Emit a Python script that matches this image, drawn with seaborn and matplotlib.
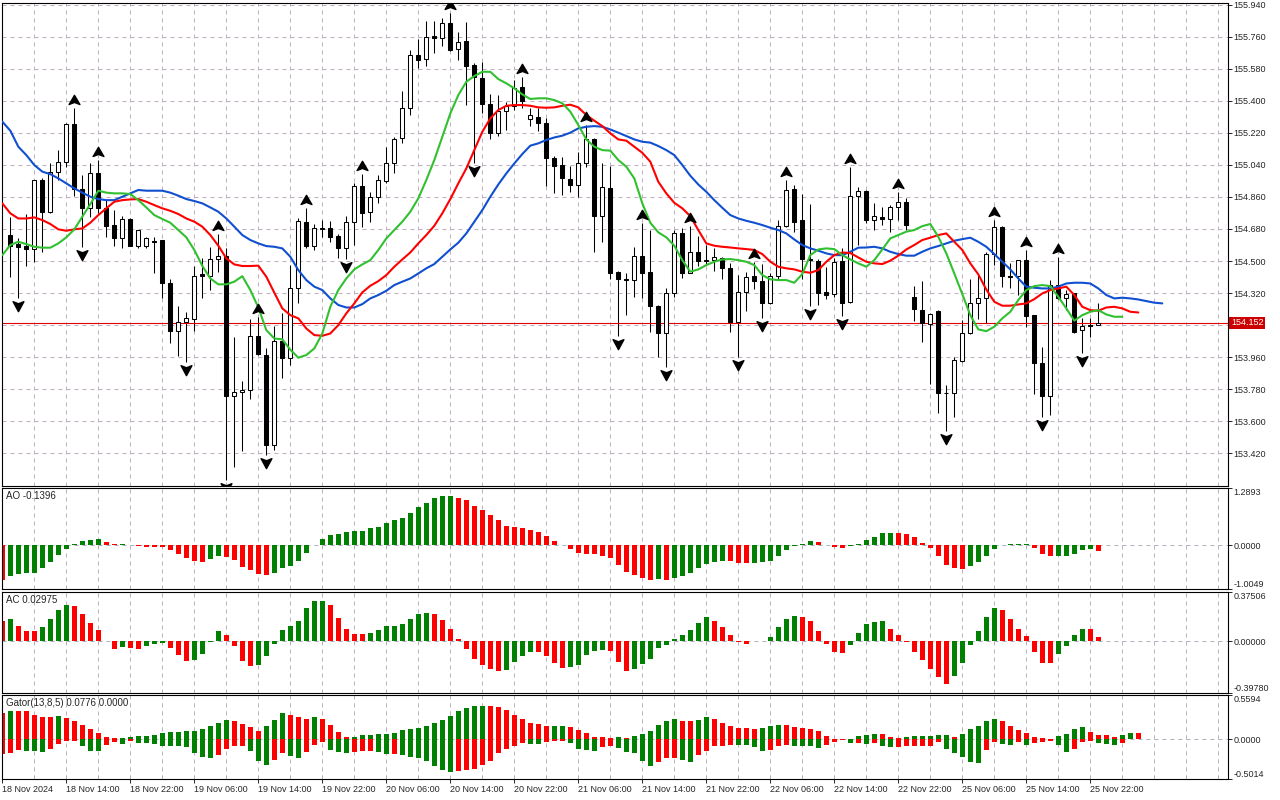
import numpy as np
import matplotlib
matplotlib.use("Agg")
import matplotlib.pyplot as plt
from matplotlib.path import Path
import seaborn as sns

# H1 candles, bar 0 = 18 Nov 2024 07:00
opens = [
    154.646, 154.593, 154.584, 154.565, 154.955, 154.773, 154.998, 155.054, 155.267, 154.902,
    154.796, 154.992, 154.796, 154.700, 154.627, 154.736, 154.586, 154.586, 154.612, 154.618,
    154.374, 154.108, 154.155, 154.172, 154.427, 154.417, 154.509, 154.528, 153.743, 153.762,
    153.773, 154.078, 153.972, 153.466, 154.050, 153.957, 154.346, 154.720, 154.586, 154.687,
    154.683, 154.640, 154.571, 154.717, 154.921, 154.773, 154.861, 154.952, 155.052, 155.189,
    155.357, 155.657, 155.633, 155.764, 155.754, 155.835, 155.689, 155.736, 155.600, 155.530,
    155.380, 155.217, 155.342, 155.371, 155.475, 155.296, 155.307, 155.273, 155.077, 155.037,
    154.962, 154.927, 155.052, 155.183, 154.754, 154.910, 154.436, 154.399, 154.395, 154.528,
    154.436, 154.247, 154.093, 154.318, 154.655, 154.434, 154.548, 154.502, 154.503, 154.518,
    154.462, 154.155, 154.327, 154.415, 154.389, 154.262, 154.417, 154.698, 154.902, 154.730,
    154.509, 154.500, 154.324, 154.312, 154.500, 154.271, 154.867, 154.895, 154.730, 154.749,
    154.736, 154.801, 154.833, 154.299, 154.224, 154.144, 154.219, 153.760, 153.760, 153.940,
    154.093, 154.262, 154.294, 154.539, 154.693, 154.417, 154.417, 154.505, 154.196, 153.925,
    153.743, 154.365, 154.290, 154.318, 154.112, 154.140, 154.140]
highs = [
    154.749, 154.627, 154.762, 154.957, 154.964, 155.048, 155.123, 155.277, 155.361, 154.983,
    155.048, 155.067, 154.842, 154.786, 154.752, 154.739, 154.676, 154.633, 154.636, 154.620,
    154.397, 154.247, 154.211, 154.472, 154.518, 154.576, 154.651, 154.571, 154.075, 153.826,
    154.174, 154.185, 154.009, 154.136, 154.209, 154.477, 154.739, 154.796, 154.706, 154.730,
    154.724, 154.650, 154.754, 154.940, 154.988, 154.889, 154.985, 155.142, 155.198, 155.457,
    155.685, 155.747, 155.848, 155.848, 155.863, 155.891, 155.788, 155.844, 155.610, 155.620,
    155.436, 155.432, 155.395, 155.517, 155.535, 155.357, 155.357, 155.301, 155.092, 155.086,
    155.035, 155.114, 155.264, 155.189, 155.048, 155.035, 154.445, 154.430, 154.580, 154.715,
    154.674, 154.253, 154.346, 154.674, 154.687, 154.696, 154.640, 154.590, 154.571, 154.524,
    154.487, 154.421, 154.440, 154.492, 154.481, 154.434, 154.730, 154.955, 154.927, 154.874,
    154.820, 154.509, 154.468, 154.518, 154.571, 155.030, 154.914, 154.899, 154.824, 154.805,
    154.814, 154.889, 154.852, 154.359, 154.387, 154.206, 154.224, 153.803, 153.962, 154.168,
    154.397, 154.427, 154.552, 154.730, 154.696, 154.487, 154.507, 154.562, 154.198, 154.018,
    154.393, 154.524, 154.337, 154.320, 154.178, 154.178, 154.262]
lows = [
    154.412, 154.294, 154.473, 154.496, 154.552, 154.767, 154.955, 155.030, 154.865, 154.580,
    154.749, 154.770, 154.636, 154.586, 154.571, 154.586, 154.571, 154.571, 154.430, 154.294,
    154.037, 153.968, 153.934, 154.106, 154.294, 154.340, 154.440, 153.269, 153.344, 153.434,
    153.723, 153.970, 153.410, 153.438, 153.844, 153.915, 154.262, 154.571, 154.562, 154.633,
    154.608, 154.518, 154.509, 154.590, 154.693, 154.721, 154.824, 154.936, 154.992, 155.161,
    155.320, 155.582, 155.595, 155.666, 155.709, 155.681, 155.629, 155.376, 155.048, 155.329,
    155.183, 155.202, 155.236, 155.348, 155.357, 155.258, 155.232, 154.923, 154.880, 154.871,
    154.889, 154.861, 155.030, 154.552, 154.608, 154.397, 154.080, 154.196, 154.299, 154.294,
    154.099, 153.959, 153.902, 154.299, 154.402, 154.430, 154.473, 154.477, 154.445, 154.397,
    154.103, 153.962, 154.221, 154.342, 154.181, 154.258, 154.393, 154.690, 154.661, 154.397,
    154.247, 154.255, 154.284, 154.299, 154.191, 154.266, 154.590, 154.711, 154.674, 154.702,
    154.661, 154.730, 154.674, 154.165, 154.047, 153.809, 153.644, 153.545, 153.625, 153.934,
    154.088, 154.172, 154.150, 154.477, 154.356, 154.346, 154.309, 154.131, 153.751, 153.625,
    153.634, 154.284, 154.224, 154.093, 153.985, 154.075, 154.138]
closes = [
    154.586, 154.580, 154.565, 154.955, 154.773, 154.998, 155.054, 155.267, 154.902, 154.796,
    154.992, 154.796, 154.698, 154.627, 154.734, 154.586, 154.674, 154.627, 154.606, 154.374,
    154.108, 154.155, 154.178, 154.415, 154.417, 154.509, 154.528, 153.743, 153.762, 153.775,
    154.078, 153.977, 153.466, 154.050, 153.957, 154.346, 154.724, 154.586, 154.687, 154.681,
    154.636, 154.571, 154.717, 154.921, 154.767, 154.861, 154.955, 155.048, 155.183, 155.357,
    155.657, 155.629, 155.756, 155.751, 155.835, 155.685, 155.728, 155.597, 155.532, 155.380,
    155.217, 155.342, 155.371, 155.474, 155.400, 155.320, 155.273, 155.077, 155.035, 154.964,
    154.927, 155.052, 155.183, 154.754, 154.914, 154.434, 154.397, 154.395, 154.530, 154.434,
    154.247, 154.093, 154.318, 154.655, 154.434, 154.548, 154.502, 154.505, 154.520, 154.462,
    154.155, 154.327, 154.412, 154.389, 154.262, 154.417, 154.698, 154.899, 154.721, 154.509,
    154.505, 154.318, 154.309, 154.496, 154.266, 154.867, 154.895, 154.730, 154.754, 154.736,
    154.801, 154.833, 154.702, 154.230, 154.150, 154.200, 153.760, 153.758, 153.944, 154.093,
    154.262, 154.294, 154.539, 154.689, 154.417, 154.412, 154.505, 154.193, 153.925, 153.743,
    154.365, 154.290, 154.312, 154.103, 154.135, 154.133, 154.152]
last_price = 154.152

up_fractals = [8, 11, 26, 31, 37, 44, 55, 64, 72, 79, 85, 93, 97, 105, 111, 123, 127, 131]
down_fractals = [1, 9, 22, 27, 32, 42, 58, 76, 82, 91, 94, 100, 104, 117, 129, 134]

# Alligator (shifted lines), first value belongs to bar -1
jaw = [
    155.283, 155.232, 155.142, 155.095, 155.039, 155.002, 154.988, 154.964, 154.936, 154.908,
    154.884, 154.861, 154.848, 154.842, 154.842, 154.861, 154.880, 154.899, 154.895, 154.895,
    154.895, 154.884, 154.867, 154.848, 154.837, 154.824, 154.801, 154.777, 154.739, 154.693,
    154.646, 154.618, 154.599, 154.584, 154.580, 154.571, 154.524,
    154.449, 154.393, 154.356, 154.337, 154.290, 154.253, 154.239, 154.239, 154.258, 154.290,
    154.309, 154.333, 154.365, 154.384, 154.402, 154.430, 154.459, 154.483, 154.524, 154.565,
    154.603, 154.655, 154.721, 154.786, 154.861, 154.930, 154.992, 155.048, 155.101, 155.148,
    155.161, 155.180, 155.194, 155.204,
    155.221, 155.245, 155.254, 155.258, 155.254, 155.239, 155.221, 155.202, 155.183, 155.170,
    155.165, 155.146, 155.123, 155.095, 155.039, 154.979, 154.930, 154.889, 154.842, 154.799,
    154.758, 154.739, 154.726, 154.715, 154.702, 154.687, 154.674, 154.655, 154.621, 154.590,
    154.571, 154.558, 154.543, 154.533, 154.533,
    154.552, 154.575, 154.576, 154.580, 154.571, 154.552, 154.539, 154.530, 154.530, 154.552,
    154.571, 154.584, 154.599, 154.614, 154.623, 154.631, 154.608, 154.580, 154.539, 154.496,
    154.453, 154.402, 154.356, 154.350, 154.346, 154.346, 154.356, 154.374, 154.378, 154.378,
    154.374, 154.346, 154.309, 154.290, 154.294, 154.290, 154.284, 154.275, 154.266, 154.262]
teeth = [
    154.824, 154.768, 154.739, 154.739, 154.745, 154.730, 154.708, 154.678, 154.670, 154.678,
    154.683, 154.715, 154.758, 154.796, 154.833, 154.842, 154.846, 154.848, 154.833, 154.814,
    154.796, 154.782, 154.764, 154.739, 154.721, 154.693, 154.646, 154.586, 154.515, 154.481,
    154.472, 154.472, 154.474, 154.412, 154.322, 154.234, 154.196,
    154.178, 154.121, 154.084, 154.080, 154.093, 154.140, 154.206, 154.262, 154.324, 154.361,
    154.387, 154.421, 154.468, 154.509, 154.548, 154.599, 154.646, 154.698, 154.768, 154.848,
    154.936, 155.020, 155.123, 155.226, 155.301, 155.348, 155.372, 155.376, 155.376, 155.372,
    155.363, 155.361, 155.363, 155.372, 155.378,
    155.363, 155.320, 155.288, 155.258, 155.217, 155.183, 155.176, 155.142, 155.108, 155.058,
    154.945, 154.880, 154.827, 154.796, 154.752, 154.674, 154.599, 154.586, 154.580, 154.576,
    154.571, 154.567, 154.562, 154.539, 154.496, 154.468, 154.459, 154.453, 154.440, 154.434,
    154.449, 154.496, 154.533, 154.548,
    154.545, 154.520, 154.496, 154.487, 154.483, 154.502, 154.530, 154.565, 154.590, 154.618,
    154.631, 154.646, 154.655, 154.608, 154.562, 154.487, 154.425, 154.340, 154.271, 154.249,
    154.249, 154.256, 154.262, 154.286, 154.318, 154.337, 154.346, 154.356, 154.309, 154.243,
    154.224, 154.221, 154.239, 154.243, 154.234, 154.215, 154.211]
lips = [
    154.533, 154.590, 154.608, 154.595, 154.580, 154.575, 154.575, 154.599, 154.633, 154.678,
    154.749, 154.820, 154.895, 154.884, 154.880, 154.880, 154.876, 154.842, 154.801, 154.758,
    154.736, 154.715, 154.674, 154.633, 154.562, 154.473, 154.402, 154.369, 154.369, 154.384,
    154.415, 154.337, 154.239, 154.112, 154.065, 154.060, 154.002,
    153.957, 153.972, 154.009, 154.093, 154.243, 154.337, 154.402, 154.453, 154.481, 154.505,
    154.562, 154.627, 154.674, 154.721, 154.777, 154.852, 154.955, 155.067, 155.198, 155.329,
    155.432, 155.507, 155.539, 155.563, 155.563, 155.522, 155.498, 155.470, 155.436, 155.410,
    155.414, 155.414, 155.404, 155.386, 155.339,
    155.264, 155.183, 155.142, 155.123, 155.120, 155.067, 155.030, 154.964, 154.824, 154.715,
    154.661, 154.633, 154.586, 154.505, 154.440, 154.453, 154.477, 154.496, 154.509, 154.511,
    154.505, 154.496, 154.477, 154.421, 154.397, 154.393, 154.393, 154.378, 154.427, 154.533,
    154.565, 154.571, 154.567, 154.533,
    154.509, 154.487, 154.468, 154.505, 154.565, 154.627, 154.646, 154.665, 154.674, 154.696,
    154.708, 154.636, 154.543, 154.430, 154.314, 154.196, 154.116, 154.106, 154.131, 154.178,
    154.215, 154.281, 154.337, 154.359, 154.365, 154.359, 154.299, 154.234, 154.165, 154.196,
    154.215, 154.224, 154.200, 154.187, 154.187]

# oscillators, first value belongs to bar -1
ao = [
    -0.80, -0.70, -0.655, -0.645, -0.626, -0.528, -0.392, -0.234, -0.098, 0.02,
    0.083, 0.106, 0.128, 0.075, 0.03, 0.032, 0.0, -0.03, -0.035, -0.053,
    -0.055, -0.12, -0.21, -0.30, -0.354, -0.377, -0.324, -0.241, -0.264, -0.339,
    -0.505, -0.573, -0.649, -0.671, -0.626, -0.528, -0.468, -0.37, -0.189, -0.005,
    0.128, 0.234, 0.256, 0.287, 0.309, 0.324, 0.377, 0.415, 0.505, 0.558,
    0.618, 0.731, 0.875, 0.965, 1.071, 1.109, 1.116, 1.071, 1.026, 0.89,
    0.80, 0.686, 0.558, 0.437, 0.415, 0.377, 0.347, 0.30, 0.21, 0.098,
    0.01, -0.098, -0.189, -0.196, -0.20, -0.241, -0.30, -0.445, -0.603, -0.671,
    -0.739, -0.784, -0.77, -0.79, -0.739, -0.694, -0.633, -0.528, -0.422, -0.377,
    -0.354, -0.36, -0.40, -0.41, -0.40, -0.395, -0.354, -0.256, -0.12, -0.03,
    0.02, 0.098, 0.068, 0.005, -0.038, -0.075, -0.023, 0.023, 0.12, 0.19,
    0.28, 0.285, 0.28, 0.25, 0.173, 0.053, -0.068, -0.256, -0.445, -0.52,
    -0.535, -0.483, -0.392, -0.256, -0.098, -0.005, 0.02, 0.03, 0.035, -0.068,
    -0.21, -0.256, -0.25, -0.245, -0.196, -0.12, -0.098, -0.1396]
ac = [
    0.154, 0.169, 0.115, 0.077, 0.076, 0.108, 0.169, 0.239, 0.277, 0.27,
    0.208, 0.139, 0.082, -0.002, -0.059, -0.046, -0.054, -0.059, -0.038, -0.02,
    -0.019, -0.051, -0.105, -0.151, -0.144, -0.098, -0.01, 0.077, 0.046, -0.038,
    -0.151, -0.192, -0.185, -0.115, -0.02, 0.085, 0.115, 0.154, 0.257, 0.308,
    0.31, 0.277, 0.177, 0.092, 0.054, 0.053, 0.062, 0.085, 0.115, 0.116,
    0.131, 0.169, 0.208, 0.216, 0.208, 0.162, 0.092, 0.015, -0.059, -0.136,
    -0.185, -0.213, -0.228, -0.221, -0.159, -0.113, -0.082, -0.083, -0.113, -0.167,
    -0.205, -0.198, -0.182, -0.105, -0.074, -0.067, -0.074, -0.159, -0.228, -0.213,
    -0.174, -0.136, -0.051, -0.028, 0.015, 0.046, 0.085, 0.139, 0.185, 0.154,
    0.108, 0.046, -0.008, -0.02, -0.003, 0.001, 0.031, 0.108, 0.169, 0.192,
    0.185, 0.154, 0.077, -0.02, -0.082, -0.09, -0.028, 0.062, 0.131, 0.146,
    0.154, 0.092, 0.046, -0.005, -0.082, -0.144, -0.213, -0.275, -0.328, -0.267,
    -0.167, -0.028, 0.077, 0.185, 0.254, 0.239, 0.169, 0.092, 0.038, -0.082,
    -0.167, -0.168, -0.098, -0.036, 0.046, 0.092, 0.091, 0.02975]
gator_up = [
    0.34, 0.363, 0.36, 0.358, 0.304, 0.287, 0.286, 0.30, 0.275, 0.237,
    0.186, 0.135, 0.085, 0.034, 0.013, 0.017, 0.034, 0.046, 0.047, 0.059,
    0.085, 0.097, 0.098, 0.106, 0.107, 0.135, 0.173, 0.211, 0.249, 0.237,
    0.199, 0.161, 0.11, 0.173, 0.249, 0.338, 0.313, 0.287, 0.262, 0.279,
    0.262, 0.186, 0.097, 0.025, 0.03, 0.059, 0.06, 0.072, 0.073, 0.085,
    0.123, 0.135, 0.148, 0.173, 0.211, 0.249, 0.30, 0.359, 0.401, 0.427,
    0.43, 0.426, 0.414, 0.376, 0.313, 0.262, 0.211, 0.199, 0.173, 0.175,
    0.176, 0.16, 0.123, 0.085, 0.034, 0.025, 0.024, 0.034, 0.017, 0.038,
    0.063, 0.11, 0.186, 0.237, 0.262, 0.237, 0.236, 0.249, 0.287, 0.262,
    0.211, 0.173, 0.148, 0.145, 0.135, 0.148, 0.173, 0.186, 0.185, 0.16,
    0.148, 0.135, 0.11, 0.046, 0.008, 0.004, 0.01, 0.046, 0.059, 0.072,
    0.07, 0.034, 0.012, 0.034, 0.046, 0.047, 0.048, 0.059, 0.06, 0.03,
    0.072, 0.135, 0.173, 0.237, 0.262, 0.237, 0.173, 0.123, 0.085, 0.034,
    0.013, 0.008, 0.038, 0.072, 0.135, 0.16, 0.097, 0.059, 0.055, 0.03,
    0.055, 0.085, 0.0776]
gator_down = [
    0.19, 0.177, 0.14, 0.144, 0.152, 0.153, 0.123, 0.063, 0.025, 0.021,
    0.089, 0.144, 0.152, 0.076, 0.038, 0.063, 0.025, 0.042, 0.051, 0.059,
    0.08, 0.084, 0.089, 0.101, 0.177, 0.228, 0.241, 0.203, 0.127, 0.089,
    0.085, 0.152, 0.279, 0.329, 0.266, 0.177, 0.215, 0.232, 0.165, 0.076,
    0.038, 0.139, 0.165, 0.177, 0.165, 0.152, 0.151, 0.165, 0.186, 0.185,
    0.203, 0.228, 0.241, 0.279, 0.342, 0.393, 0.418, 0.406, 0.393, 0.38,
    0.33, 0.279, 0.177, 0.127, 0.089, 0.051, 0.052, 0.063, 0.038, 0.025,
    0.02, 0.051, 0.123, 0.135, 0.144, 0.101, 0.089, 0.114, 0.165, 0.177,
    0.279, 0.342, 0.292, 0.241, 0.24, 0.266, 0.292, 0.203, 0.144, 0.089,
    0.088, 0.07, 0.072, 0.076, 0.101, 0.152, 0.139, 0.089, 0.076, 0.078,
    0.08, 0.082, 0.114, 0.076, 0.038, 0.013, 0.051, 0.05, 0.052, 0.045,
    0.078, 0.101, 0.1, 0.089, 0.088, 0.087, 0.086, 0.038, 0.127, 0.177,
    0.228, 0.292, 0.304, 0.139, 0.038, 0.063, 0.076, 0.038, 0.076, 0.051,
    0.038, 0.025, 0.076, 0.165, 0.127, 0.038, 0.025, 0.051, 0.055, 0.068,
    0.042]

time_labels = ['18 Nov 2024', '18 Nov 14:00', '18 Nov 22:00', '19 Nov 06:00', '19 Nov 14:00',
               '19 Nov 22:00', '20 Nov 06:00', '20 Nov 14:00', '20 Nov 22:00', '21 Nov 06:00',
               '21 Nov 14:00', '21 Nov 22:00', '22 Nov 06:00', '22 Nov 14:00', '22 Nov 22:00',
               '25 Nov 06:00', '25 Nov 14:00', '25 Nov 22:00']
label_bars = [-1, 7, 15, 23, 31, 39, 47, 55, 63, 71, 79, 87, 95, 103, 111, 119, 127, 135]

GREEN = '#008000'
RED = '#ff0000'
GRID = '#c0aec0'
FS = 6.5

sns.set_style('white')
plt.rcParams['font.family'] = ['Liberation Sans', 'DejaVu Sans']


def shade(vals):
    v = np.asarray(vals, dtype=float)
    prev = np.r_[v[0], v[:-1]]
    return np.where(v > prev, GREEN, RED)


fig = plt.figure(figsize=(12.8, 8), dpi=100)


def panel(top, bottom):
    return fig.add_axes([2 / 1280, 1 - bottom / 800, 1225.5 / 1280, (bottom - top) / 800])


ax = panel(2.7, 485.7)
ax_ao = panel(488.3, 589.3)
ax_ac = panel(592.3, 692.7)
ax_gt = panel(695.3, 779.0)
axes = [ax, ax_ao, ax_ac, ax_gt]

# ---- candles ----
o, h, l, c = map(np.asarray, (opens, highs, lows, closes))
xb = np.arange(len(o))
ax.vlines(xb, l, h, color='black', linewidth=0.75, zorder=2)
body_col = np.where(c >= o, 'white', 'black')
ax.bar(xb, np.abs(c - o), bottom=np.minimum(o, c), width=0.5, color=body_col,
       edgecolor='black', linewidth=0.75, zorder=3)
ax.axhline(last_price, color='#e00000', linewidth=0.8, zorder=2.2)

for vals, col in ((jaw, '#1050d0'), (teeth, '#ff0000'), (lips, '#30c030')):
    xs = np.arange(len(vals)) - 1
    sns.lineplot(x=xs, y=vals, ax=ax, color=col, linewidth=1.5, estimator=None,
                 sort=False, legend=False, zorder=4)

up_path = Path([(0, 1.0), (0.41, 0.3), (0, 0.46), (-0.41, 0.3), (0, 1.0)],
               [Path.MOVETO, Path.LINETO, Path.LINETO, Path.LINETO, Path.CLOSEPOLY])
dn_path = Path([(0, -1.0), (0.41, -0.24), (0, -0.4), (-0.41, -0.24), (0, -1.0)],
               [Path.MOVETO, Path.LINETO, Path.LINETO, Path.LINETO, Path.CLOSEPOLY])
ax.plot(up_fractals, h[up_fractals], linestyle='none', marker=up_path, markersize=19,
        color='black', zorder=6)
ax.plot(down_fractals, l[down_fractals], linestyle='none', marker=dn_path, markersize=19,
        color='black', zorder=6)

ax.set_ylim(153.238, 155.951)
price_ticks = np.round(np.arange(153.42, 155.95, 0.18), 3)
ax.set_yticks(price_ticks)
# the tick under the current-price box keeps its mark but its label is covered
ax.set_yticklabels(['' if abs(p - last_price) < 0.05 else f'{p:.3f}' for p in price_ticks])
ax.yaxis.grid(True, color=GRID, linestyle=(0, (4, 4)), linewidth=0.72)
ax.annotate(f'{last_price:.3f}', xy=(1, last_price), xycoords=('axes fraction', 'data'),
            xytext=(2.6, 0), textcoords='offset points', ha='left', va='center',
            color='white', fontsize=FS, annotation_clip=False, zorder=10,
            bbox=dict(boxstyle='square,pad=0.18', fc='#cc0000', ec='none'))

# ---- oscillators ----
xa = np.arange(len(ao)) - 1
ax_ao.bar(xa, ao, width=0.55, color=shade(ao), linewidth=0, zorder=2)
xc = np.arange(len(ac)) - 1
ax_ac.bar(xc, ac, width=0.55, color=shade(ac), linewidth=0, zorder=2)
xu = np.arange(len(gator_up)) - 1
ax_gt.bar(xu, gator_up, width=0.55, color=shade(gator_up), linewidth=0, zorder=2)
xd = np.arange(len(gator_down)) - 1
ax_gt.bar(xd, -np.asarray(gator_down), width=0.55, color=shade(gator_down), linewidth=0, zorder=2)

ranges = {ax_ao: (-1.0049, 1.2893, '%.4f'), ax_ac: (-0.39780, 0.37506, '%.5f'),
          ax_gt: (-0.5014, 0.5594, '%.4f')}
for a, (lo, hi, fmt) in ranges.items():
    a.set_ylim(lo, hi)
    a.set_yticks([lo, 0, hi])
    a.set_yticklabels([fmt % lo, fmt % 0, fmt % hi])
    a.axhline(0, color='#a9b4bc', linestyle=(0, (4, 4)), linewidth=0.72, zorder=1)

ax_ao.annotate(f'AO {ao[-1]:.4f}', xy=(0, 1), xycoords='axes fraction', xytext=(4, -3),
               textcoords='offset pixels', ha='left', va='top', fontsize=7)
ax_ac.annotate(f'AC {ac[-1]:.5f}', xy=(0, 1), xycoords='axes fraction', xytext=(4, -3),
               textcoords='offset pixels', ha='left', va='top', fontsize=7)
ax_gt.annotate(f'Gator(13,8,5) {gator_up[-1]:.4f} 0.0000', xy=(0, 1), xycoords='axes fraction',
               xytext=(4, -3), textcoords='offset pixels', ha='left', va='top', fontsize=7)

# ---- shared styling ----
for a in axes:
    a.set_xlim(-1.04, 152.15)
    a.set_axisbelow(True)
    a.set_xticks(label_bars)
    a.set_xticks(np.arange(-1, 153, 4), minor=True)
    a.xaxis.grid(True, which='both', color=GRID, linestyle=(0, (4, 4)), linewidth=0.72)
    a.yaxis.tick_right()
    a.tick_params(axis='y', which='both', direction='out', length=3, width=0.7,
                  pad=1.2, labelsize=FS, right=True, left=False)
    a.tick_params(axis='x', which='both', length=0, labelbottom=False)
    a.set_xlabel('')
    a.set_ylabel('')
    for s in a.spines.values():
        s.set_visible(True)
        s.set_color('black')
        s.set_linewidth(0.8)

ax_gt.set_xticklabels(time_labels, ha='left')
ax_gt.tick_params(axis='x', which='major', direction='out', length=3, width=0.7, pad=1,
                  labelbottom=True, bottom=True, labelsize=FS)

# edge values of the indicator scales sit inside their panel
for a in ranges:
    ticks = a.yaxis.get_major_ticks()
    ticks[0].label2.set_verticalalignment('bottom')
    ticks[-1].label2.set_verticalalignment('top')

fig.savefig('out.png', dpi=100, facecolor='white')
